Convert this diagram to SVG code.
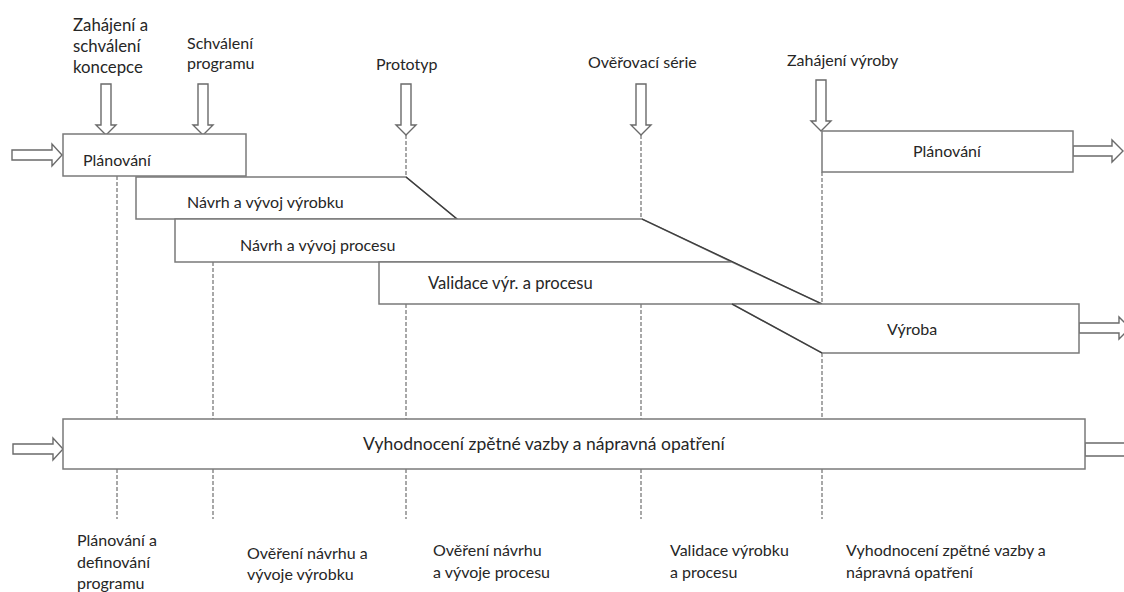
<svg xmlns="http://www.w3.org/2000/svg" width="1124" height="592" viewBox="0 0 1124 592">
<style>
.box{fill:#fff;stroke:#7a7a7a;stroke-width:1.5}
.slant{fill:none;stroke:#3c3c3c;stroke-width:1.3}
.arr{fill:#fff;stroke:#6a6a6a;stroke-width:1.4;stroke-linejoin:miter}
.dash{fill:none;stroke:#7a7a7a;stroke-width:1.3;stroke-dasharray:4 2}
text{font-family:Lato,"Liberation Sans",sans-serif;font-size:16px;fill:#262626}
</style>
<rect width="1124" height="592" fill="#fff"/>
<g id="connectors">
<path class="dash" d="M117 176V419M117 469V519M213 262V419M213 469V519M406 135V177M406 304V419M406 469V519M641 135V219M641 304V419M641 469V519M822 172V304M822 353V419M822 469V519"/>
<path class="arr" d="M101 84H111V125H116L106 135L96 125H101Z"/>
<path class="arr" d="M198 84H208V125H213L203 135L193 125H198Z"/>
<path class="arr" d="M401 84H411V125H416L406 135L396 125H401Z"/>
<path class="arr" d="M636 84H646V125H651L641 135L631 125H636Z"/>
<path class="arr" d="M816 80H826V121H831L821 131L811 121H816Z"/>
<path class="arr" d="M12 150H52V144L62 155L52 166V160H12Z"/>
<path class="arr" d="M13 444H53V438L63 449L53 460V454H13Z"/>
<path class="arr" d="M1073 146H1112V140L1123 151L1112 162V156H1073Z"/>
<path class="arr" d="M1079 323H1119V317L1130 328L1119 339V333H1079Z"/>
<path class="arr" d="M1085 443H1128V456H1085Z"/>
</g>
<g id="node-planovani1">
<rect class="box" x="63" y="134" width="183" height="42"/>
<text x="83" y="166">Plánování</text>
</g>
<g id="node-navrh-vyrobku">
<polygon class="box" points="136,177 406,177 457,219 136,219"/>
<path class="slant" d="M406 177L457 219"/>
<text x="187" y="208">Návrh a vývoj výrobku</text>
</g>
<g id="node-navrh-procesu">
<polygon class="box" points="175,219 642,219 732,262 175,262"/>
<text x="240" y="251">Návrh a vývoj procesu</text>
</g>
<g id="node-validace">
<polygon class="box" points="379,262 732,262 822,304 379,304"/>
<path class="slant" d="M642 219L822 304"/>
<text x="428" y="289" style="font-size:16.6px">Validace výr. a procesu</text>
</g>
<g id="node-vyroba">
<polygon class="box" points="732,304 1079,304 1079,353 822,353"/>
<path class="slant" d="M732 304L822 353"/>
<text x="887" y="335">Výroba</text>
</g>
<g id="node-planovani2">
<rect class="box" x="822" y="131" width="251" height="41"/>
<text x="913" y="157">Plánování</text>
</g>
<g id="node-vyhodnoceni">
<rect class="box" x="63" y="419" width="1022" height="50"/>
<text x="363" y="450" style="font-size:17.5px">Vyhodnocení zpětné vazby a nápravná opatření</text>
</g>
<g id="milestones">
<text x="73" y="31" style="font-size:16.8px">Zahájení a</text>
<text x="73" y="52" style="font-size:16.8px">schválení</text>
<text x="73" y="73" style="font-size:16.8px">koncepce</text>
<text x="187" y="49">Schválení</text>
<text x="187" y="69">programu</text>
<text x="376" y="70">Prototyp</text>
<text x="588" y="68">Ověřovací série</text>
<text x="787" y="66">Zahájení výroby</text>
</g>
<g id="phases">
<text x="77" y="546">Plánování a</text>
<text x="77" y="568">definování</text>
<text x="77" y="589">programu</text>
<text x="247" y="559">Ověření návrhu a</text>
<text x="247" y="580">vývoje výrobku</text>
<text x="433" y="556">Ověření návrhu</text>
<text x="433" y="578">a vývoje procesu</text>
<text x="670" y="556">Validace výrobku</text>
<text x="670" y="578">a procesu</text>
<text x="846" y="556">Vyhodnocení zpětné vazby a</text>
<text x="846" y="578">nápravná opatření</text>
</g>
</svg>
